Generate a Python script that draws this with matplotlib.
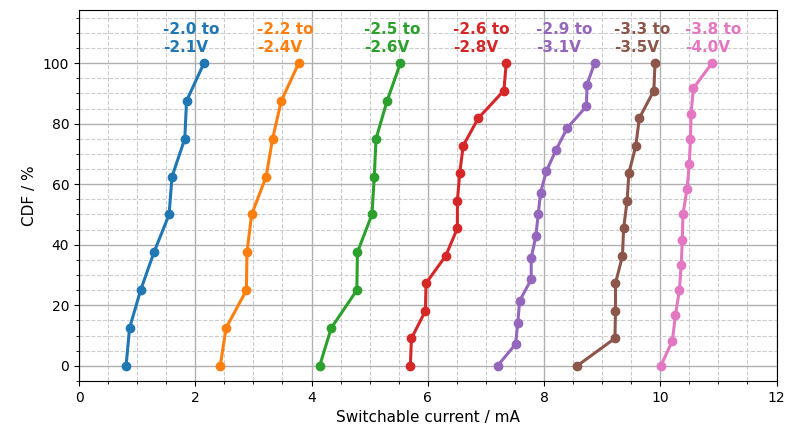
import matplotlib
matplotlib.use("Agg")
import matplotlib.pyplot as plt
import numpy as np
from matplotlib.ticker import MultipleLocator

labels = ["-2.0 to\n-2.1V", "-2.2 to\n-2.4V", "-2.5 to\n-2.6V", "-2.6 to\n-2.8V",
          "-2.9 to\n-3.1V", "-3.3 to\n-3.5V", "-3.8 to\n-4.0V"]
colors = ["#1f77b4", "#ff7f0e", "#2ca02c", "#d62728", "#9467bd", "#8c564b", "#e377c2"]

s1 = [0.81, 0.87, 1.06, 1.29, 1.55, 1.60, 1.82, 1.85, 2.15]
s2 = [2.43, 2.53, 2.88, 2.89, 2.97, 3.22, 3.33, 3.48, 3.78]
s3 = [4.14, 4.34, 4.78, 4.79, 5.04, 5.08, 5.11, 5.30, 5.53]
s4 = [5.70, 5.72, 5.96, 5.97, 6.31, 6.51, 6.51, 6.55, 6.61, 6.87, 7.31, 7.35]
s5 = [7.20, 7.51, 7.55, 7.58, 7.78, 7.78, 7.86, 7.90, 7.94, 8.04, 8.21, 8.40, 8.73, 8.74, 8.87]
s6 = [8.57, 9.22, 9.23, 9.23, 9.35, 9.37, 9.43, 9.46, 9.58, 9.64, 9.89, 9.91]
s7 = [10.01, 10.21, 10.26, 10.33, 10.36, 10.38, 10.39, 10.46, 10.50, 10.52, 10.53, 10.57, 10.89]
series = [s1, s2, s3, s4, s5, s6, s7]

label_x = [1.45, 3.06, 4.90, 6.44, 7.86, 9.21, 10.42]
label_y = 108.0

fig = plt.figure(figsize=(7.86, 4.32), dpi=100)
ax = fig.add_axes([79 / 786, 1 - 381 / 432, (776.5 - 79) / 786, (381 - 9.5) / 432])

for vals, c, lab, lx in zip(series, colors, labels, label_x):
    n = len(vals)
    cdf = np.arange(n) / (n - 1) * 100
    ax.plot(vals, cdf, "-o", color=c, lw=2.2, ms=6)
    ax.text(lx, label_y, lab, color=c, ha="left", va="center",
            fontsize=11, fontweight="bold", linespacing=1.25)

ax.set_xlim(0, 12)
ax.set_ylim(-5, 117.7)
ax.xaxis.set_major_locator(MultipleLocator(2))
ax.xaxis.set_minor_locator(MultipleLocator(0.5))
ax.yaxis.set_major_locator(MultipleLocator(20))
ax.yaxis.set_minor_locator(MultipleLocator(5))
ax.grid(which="major", color="#b0b0b0", lw=1.0)
ax.grid(which="minor", color="#cccccc", lw=0.8, ls="--")
ax.set_axisbelow(True)
ax.set_xlabel("Switchable current / mA", fontsize=11)
ax.set_ylabel("CDF / %", fontsize=11)

fig.savefig("out.png", dpi=100)
